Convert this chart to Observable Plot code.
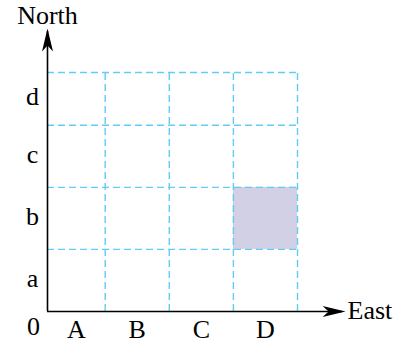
<!DOCTYPE html>
<html>
<head>
<meta charset="utf-8">
<script src="https://cdn.jsdelivr.net/npm/d3@7"></script>
<script src="https://cdn.jsdelivr.net/npm/@observablehq/plot@0.6"></script>
<style>
  html, body { margin: 0; padding: 0; background: #fff; }
  #chart svg { display: block; }
</style>
</head>
<body>
<div id="chart"></div>
<script>
// Data
const columns = ["A", "B", "C", "D"];
const rows = ["a", "b", "c", "d"];
const colEdges = [0, 0.9, 1.9, 2.9, 3.9];
const rowEdges = [0, 1, 2, 3, 3.85];
const shaded = [{col: "D", row: "b"}];
const originLabel = "0";
const xAxisLabel = "East";
const yAxisLabel = "North";
const xAxisEnd = 4.65;
const yAxisEnd = 4.56;

const gridColor = "#62cbf6";
const fontFamily = "'Liberation Serif', 'DejaVu Serif', serif";
const fs = 26;

const arrowUp = {
  draw(ctx) {
    ctx.moveTo(0, 0);
    ctx.lineTo(5.5, 23);
    ctx.lineTo(0, 17);
    ctx.lineTo(-5.5, 23);
    ctx.closePath();
  }
};
const arrowRight = {
  draw(ctx) {
    ctx.moveTo(0, 0);
    ctx.lineTo(-23, 5.5);
    ctx.lineTo(-17, 0);
    ctx.lineTo(-23, -5.5);
    ctx.closePath();
  }
};

const colMid = (i) => (colEdges[i] + colEdges[i + 1]) / 2;
const rowMid = (i) => (rowEdges[i] + rowEdges[i + 1]) / 2;

const chart = Plot.plot({
  width: 402,
  height: 344,
  marginLeft: 47,
  marginRight: 105,
  marginTop: 72,
  marginBottom: 33,
  x: {domain: [colEdges[0], colEdges[colEdges.length - 1]], axis: null},
  y: {domain: [rowEdges[0], rowEdges[rowEdges.length - 1]], axis: null},
  style: {background: "#fff", fontFamily, overflow: "visible"},
  marks: [
    Plot.rect(shaded, {
      x1: d => colEdges[columns.indexOf(d.col)],
      x2: d => colEdges[columns.indexOf(d.col) + 1],
      y1: d => rowEdges[rows.indexOf(d.row)],
      y2: d => rowEdges[rows.indexOf(d.row) + 1],
      fill: "#d2d0e4"
    }),
    Plot.ruleX(colEdges.slice(1), {
      y1: rowEdges[0], y2: rowEdges[rowEdges.length - 1],
      stroke: gridColor, strokeWidth: 1.4, strokeDasharray: "7,4"
    }),
    Plot.ruleY(rowEdges.slice(1), {
      x1: colEdges[0], x2: colEdges[colEdges.length - 1],
      stroke: gridColor, strokeWidth: 1.4, strokeDasharray: "7,4"
    }),
    Plot.ruleX([colEdges[0]], {y1: rowEdges[0], y2: yAxisEnd - 0.05, stroke: "#000", strokeWidth: 1.6}),
    Plot.ruleY([rowEdges[0]], {x1: colEdges[0], x2: xAxisEnd - 0.05, stroke: "#000", strokeWidth: 1.6}),
    Plot.dot([0], {x: colEdges[0], y: yAxisEnd, symbol: arrowUp, fill: "#000", stroke: null}),
    Plot.dot([0], {x: xAxisEnd, y: rowEdges[0], symbol: arrowRight, fill: "#000", stroke: null}),
    Plot.text(columns, {
      x: (d, i) => colMid(i), y: rowEdges[0], text: d => d,
      dy: 18, fontSize: fs, fill: "#000", lineAnchor: "middle"
    }),
    Plot.text(rows, {
      x: colEdges[0], y: (d, i) => rowMid(i), text: d => d,
      dx: -15, dy: -2, fontSize: fs, fill: "#000", lineAnchor: "middle"
    }),
    Plot.text([originLabel], {
      x: colEdges[0], y: rowEdges[0], text: d => d,
      dx: -14, dy: 15, fontSize: fs, fill: "#000", lineAnchor: "middle"
    }),
    Plot.text([yAxisLabel], {
      x: colEdges[0], y: yAxisEnd, text: d => d,
      dy: -13, fontSize: fs, fill: "#000", lineAnchor: "middle"
    }),
    Plot.text([xAxisLabel], {
      x: xAxisEnd, y: rowEdges[0], text: d => d,
      dx: 2, dy: -1, fontSize: fs, fill: "#000", textAnchor: "start", lineAnchor: "middle"
    })
  ]
});
document.getElementById("chart").appendChild(chart);
</script>
</body>
</html>
